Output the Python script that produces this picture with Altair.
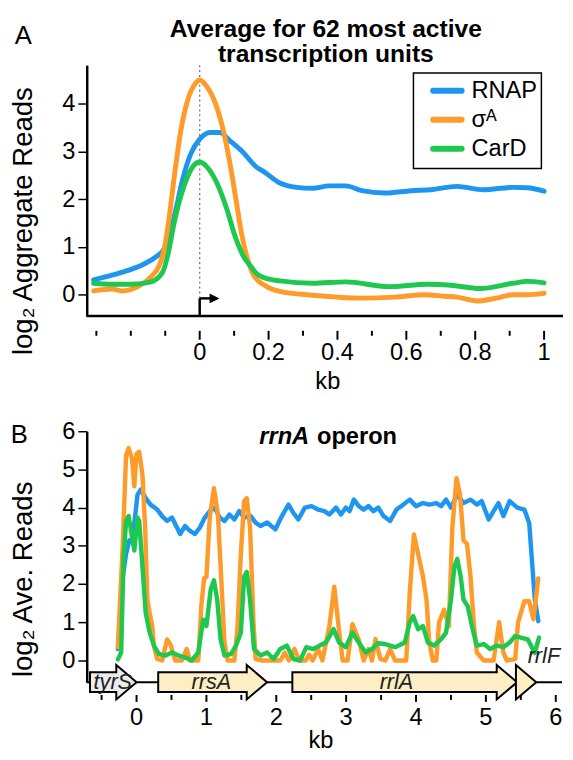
import altair as alt
import pandas as pd

FONT = "Liberation Sans"
SERIES = ["RNAP", "σᴬ", "CarD"]
COLORS = ["#1e96ef", "#ff9b2b", "#1ec84e"]

# ---------------- Panel A: average of 62 most active transcription units ----------------
A_KB_RNAP = [-0.308, -0.255, -0.208, -0.16, -0.122, -0.107, -0.088, -0.069, -0.05, -0.026,
             0.0, 0.03, 0.059, 0.087, 0.125, 0.164, 0.186, 0.233, 0.281, 0.328,
             0.376, 0.424, 0.471, 0.538, 0.614, 0.671, 0.747, 0.824, 0.909, 0.95, 1.0]
A_RNAP = [0.31, 0.41, 0.51, 0.65, 0.82, 0.92, 1.24, 1.79, 2.40, 2.95,
          3.26, 3.40, 3.40, 3.23, 2.99, 2.68, 2.58, 2.34, 2.25, 2.23,
          2.28, 2.28, 2.18, 2.13, 2.18, 2.20, 2.27, 2.20, 2.25, 2.24, 2.17]

A_KB_SIG = [-0.308, -0.255, -0.226, -0.18, -0.141, -0.117, -0.103, -0.088, -0.074, -0.055,
            -0.036, -0.012, 0.0, 0.021, 0.05, 0.073, 0.093, 0.107, 0.121, 0.136,
            0.157, 0.195, 0.233, 0.328, 0.40, 0.471, 0.567, 0.652, 0.709, 0.747,
            0.805, 0.862, 0.909, 0.95, 1.0]
A_SIG = [0.08, 0.12, 0.08, 0.17, 0.38, 0.62, 0.96, 1.65, 2.46, 3.43,
         4.05, 4.43, 4.50, 4.36, 3.92, 3.30, 2.54, 1.92, 1.30, 0.82,
         0.41, 0.17, 0.07, -0.01, -0.05, -0.07, -0.05, 0.0, -0.03, -0.05,
         -0.13, -0.07, 0.0, 0.0, 0.03]

A_KB_CARD = [-0.308, -0.255, -0.198, -0.141, -0.107, -0.093, -0.074, -0.055, -0.036, -0.017,
             0.0, 0.021, 0.05, 0.079, 0.102, 0.126, 0.15, 0.164, 0.186, 0.233,
             0.328, 0.424, 0.548, 0.662, 0.728, 0.814, 0.909, 0.95, 1.0]
A_CARD = [0.24, 0.22, 0.22, 0.27, 0.48, 0.82, 1.51, 2.06, 2.46, 2.71,
          2.78, 2.68, 2.34, 1.79, 1.24, 0.82, 0.58, 0.45, 0.36, 0.29,
          0.24, 0.27, 0.17, 0.22, 0.20, 0.13, 0.24, 0.28, 0.25]

A_XMAJOR = [0, 0.2, 0.4, 0.6, 0.8, 1.0]
A_XLABELS = ["0", "0.2", "0.4", "0.6", "0.8", "1"]
A_XMINOR = [-0.3, -0.2, -0.1, 0.1, 0.3, 0.5, 0.7, 0.9]
A_YTICKS = [0, 1, 2, 3, 4]
A_TITLE = ["Average for 62 most active", "transcription units"]
A_YTITLE = "log₂ Aggregate Reads"
TSS_KB = [0.0]
TSS_ARROW_KB = [0.0, 0.035, 0.043]   # bend, shaft end, arrow-head centre

# ---------------- Panel B: rrnA operon ----------------
B_KB_RNAP = [-0.267, -0.197, -0.15, -0.103, -0.056, 0.014, 0.06, 0.131, 0.2, 0.296,
             0.366, 0.437, 0.507, 0.578, 0.624, 0.695, 0.766, 0.836, 0.907, 0.977,
             1.048, 1.118, 1.19, 1.259, 1.33, 1.4, 1.47, 1.54, 1.634, 1.704,
             1.775, 1.87, 1.986, 2.08, 2.175, 2.245, 2.315, 2.409, 2.503, 2.597,
             2.69, 2.76, 2.855, 2.925, 2.994, 3.05, 3.11, 3.18, 3.25, 3.32,
             3.39, 3.46, 3.535, 3.63, 3.72, 3.82, 3.91, 4.0, 4.1, 4.19,
             4.29, 4.36, 4.43, 4.5, 4.59, 4.68, 4.78, 4.87, 4.94, 5.04,
             5.11, 5.18, 5.25, 5.34, 5.45, 5.55, 5.62, 5.66, 5.7, 5.75]
B_RNAP = [0.3, 2.19, 2.79, 3.14, 3.2, 4.34, 4.47, 4.25, 4.08, 3.95,
          3.78, 3.65, 3.74, 3.48, 3.31, 3.52, 3.39, 3.31, 3.48, 3.74,
          3.91, 4.0, 3.74, 3.65, 3.82, 3.69, 3.91, 3.74, 3.78, 3.61,
          3.52, 3.61, 3.43, 3.78, 4.08, 3.86, 3.69, 4.0, 4.04, 3.95,
          3.91, 3.82, 4.0, 3.82, 4.0, 3.91, 4.21, 4.04, 3.95, 4.04,
          3.91, 4.0, 3.78, 3.65, 3.95, 4.08, 4.21, 4.04, 4.12, 4.08,
          4.12, 4.04, 4.21, 4.0, 4.34, 4.12, 4.21, 4.08, 4.17, 3.69,
          3.91, 4.12, 3.78, 4.17, 4.0, 3.95, 3.6, 2.6, 1.6, 1.03]

B_KB_SIG = [-0.267, -0.197, -0.15, -0.113, -0.065, -0.032, 0.0, 0.038, 0.085, 0.123,
            0.155, 0.188, 0.225, 0.249, 0.296, 0.366, 0.437, 0.485, 0.555, 0.65,
            0.718, 0.766, 0.883, 0.93, 0.968, 1.0, 1.048, 1.108, 1.165, 1.211,
            1.259, 1.305, 1.4, 1.446, 1.493, 1.54, 1.577, 1.625, 1.672, 1.704,
            1.8, 1.9, 2.06, 2.12, 2.18, 2.26, 2.33, 2.42, 2.47, 2.52,
            2.6, 2.66, 2.76, 2.83, 2.9, 2.95, 3.02, 3.09, 3.18, 3.25,
            3.32, 3.37, 3.42, 3.49, 3.56, 3.63, 3.7, 3.86, 3.91, 3.97,
            4.03, 4.1, 4.15, 4.19, 4.24, 4.29, 4.33, 4.4, 4.47, 4.52,
            4.58, 4.63, 4.68, 4.73, 4.78, 4.83, 4.87, 4.97, 5.11, 5.19,
            5.25, 5.3, 5.42, 5.46, 5.55, 5.62, 5.68, 5.75]
B_SIG = [0.35, 3.05, 5.37, 5.56, 5.28, 4.56, 5.41, 5.46, 4.85, 3.48,
         1.59, 1.24, 0.9, 0.39, 0.04, 0.0, 0.55, 0.42, 0.0, 0.0,
         0.30, 0.0, 0.0, 1.5, 2.15, 2.19, 3.74, 4.51, 3.82, 2.19,
         0.47, 0.0, 0.0, 0.9, 2.79, 4.17, 4.25, 3.48, 1.07, 0.04,
         0.0, 0.0, 0.0, 0.2, 0.0, 0.3, 0.0, 0.0, 0.15, 0.0,
         0.3, 0.0, 0.9, 1.93, 0.75, 0.0, 0.0, 0.95, 0.55, 0.0,
         0.3, 0.0, 0.56, 0.04, 0.0, 0.3, 0.0, 0.0, 1.76, 3.3,
         2.79, 2.19, 1.59, 0.47, 0.0, 0.0, 1.0, 1.33, 0.9, 3.48,
         4.77, 4.34, 3.14, 3.05, 2.19, 0.9, 0.21, 0.0, 0.0, 1.0,
         0.21, 0.0, 0.04, 0.99, 1.55, 1.55, 1.08, 2.15]

B_KB_CARD = [-0.267, -0.22, -0.187, -0.15, -0.113, -0.056, -0.032, 0.014, 0.038, 0.085,
             0.131, 0.188, 0.249, 0.319, 0.413, 0.507, 0.6, 0.695, 0.789, 0.883,
             0.954, 1.0, 1.061, 1.108, 1.155, 1.202, 1.259, 1.352, 1.423, 1.493,
             1.54, 1.577, 1.625, 1.681, 1.775, 1.869, 1.963, 2.057, 2.15, 2.245,
             2.34, 2.43, 2.53, 2.62, 2.71, 2.82, 2.9, 2.994, 3.09, 3.18,
             3.28, 3.37, 3.45, 3.56, 3.7, 3.84, 3.91, 3.96, 4.03, 4.1,
             4.17, 4.26, 4.36, 4.43, 4.5, 4.55, 4.59, 4.64, 4.68, 4.74,
             4.8, 4.87, 4.97, 5.06, 5.16, 5.25, 5.34, 5.42, 5.5, 5.6,
             5.7, 5.76]
B_CARD = [0.03, 0.21, 2.62, 3.65, 3.78, 3.14, 2.88, 3.74, 3.65, 2.45,
          1.24, 0.73, 0.39, 0.17, 0.13, 0.21, 0.13, 0.08, 0.0, 0.21,
          1.07, 0.9, 1.85, 2.1, 1.59, 0.56, 0.13, 0.17, 0.39, 0.73,
          2.19, 2.32, 1.59, 0.3, 0.13, 0.21, 0.04, 0.3, 0.39, 0.04,
          0.0, 0.35, 0.3, 0.39, 0.47, 0.82, 0.47, 0.35, 0.73, 0.47,
          0.21, 0.3, 0.45, 0.43, 0.35, 0.47, 1.0, 1.16, 0.82, 0.9,
          0.47, 0.39, 0.56, 0.73, 1.59, 2.45, 2.66, 2.19, 1.59, 1.42,
          0.9, 0.39, 0.43, 0.3, 0.39, 0.35, 0.47, 0.64, 0.6, 0.55,
          0.2, 0.6]

B_XMAJOR = [0.0, 1.0, 2.0, 3.0, 4.0, 5.0, 6.0]
B_XLABELS = ["0", "1", "2", "3", "4", "5", "6"]
B_XMINOR = [-0.5, 0.5, 1.5, 2.5, 3.5, 4.5, 5.5]
B_YTICKS = [0, 1, 2, 3, 4, 5, 6]
B_YTITLE = "log₂ Ave. Reads"
B_TITLE = ["rrnA", "operon"]

GENES = ["tyrS", "rrsA", "rrlA", "rrlF"]
GENE_START = [-0.666, 0.31, 2.23, 5.43]
GENE_HEAD = [-0.29, 1.577, 5.155, 5.43]
GENE_LABEL_KB = [-0.34, 1.07, 3.72, 5.83]
GENE_FILL = "#fdeec3"
TYRS_FILL = "#ececec"


def to_long(parts):
    return pd.concat([pd.DataFrame({"kb": xs, "val": ys, "series": name}) for name, xs, ys in parts],
                     ignore_index=True)


ONE = pd.DataFrame({"k": [0]})


def text_at(text, x, y, size, weight="normal", style="normal", align="center", color="black"):
    return alt.Chart(ONE).mark_text(text=text, font=FONT, fontSize=size, fontWeight=weight,
                                    fontStyle=style, align=align, baseline="middle",
                                    color=color).encode(x=alt.value(x), y=alt.value(y))


def tick_marks(values, scale, top, length):
    return alt.Chart(pd.DataFrame({"tick": values})).mark_rule(color="black", strokeWidth=2).encode(
        x=alt.X("tick:Q", scale=scale, axis=None), y=alt.value(top), y2=alt.value(top + length))


def tick_labels(values, labels, scale, y):
    return alt.Chart(pd.DataFrame({"tick": values, "lab": labels})).mark_text(
        font=FONT, fontSize=24, baseline="middle", color="black").encode(
        x=alt.X("tick:Q", scale=scale, axis=None), y=alt.value(y), text="lab:N")


# ====================== Panel A ======================
WA, HA = 484, 255
OFF_A = 15
xA = alt.Scale(domain=[-0.328, 1.055], nice=False, zero=False)
yA = alt.Scale(domain=[-0.447, 4.81], nice=False, zero=False)

dfA = to_long([(SERIES[0], A_KB_RNAP, A_RNAP), (SERIES[1], A_KB_SIG, A_SIG), (SERIES[2], A_KB_CARD, A_CARD)])

axA_y = alt.Axis(values=A_YTICKS, domainColor="black", domainWidth=2.5, tickColor="black",
                 tickWidth=1.5, tickSize=9, labelFontSize=24, labelPadding=3, labelColor="black",
                 labelFont=FONT, title=A_YTITLE, titleFontSize=28, titleFontWeight="normal",
                 titleColor="black", titleFont=FONT, titleAngle=270, titleX=-64, titleY=158,
                 titleAlign="center", titleBaseline="middle")

tss_line = alt.Chart(pd.DataFrame({"kb": TSS_KB})).mark_rule(
    color="#777", strokeWidth=1.3, strokeDash=[2, 3]).encode(x=alt.X("kb:Q", scale=xA, axis=None))

linesA = alt.Chart(dfA).mark_line(strokeWidth=5, strokeCap="round", strokeJoin="round",
                                  interpolate="monotone").encode(
    x=alt.X("kb:Q", scale=xA, axis=None),
    y=alt.Y("val:Q", scale=yA, axis=axA_y),
    color=alt.Color("series:N", scale=alt.Scale(domain=SERIES, range=COLORS), legend=None),
)

baseA = alt.Chart(ONE).mark_rule(color="black", strokeWidth=2.5).encode(
    x=alt.value(0), x2=alt.value(WA), y=alt.value(HA))
xaxisA = [tick_marks(A_XMAJOR, xA, HA + OFF_A, 9),
          tick_marks(A_XMINOR, xA, HA + OFF_A, 5),
          tick_labels(A_XMAJOR, A_XLABELS, xA, HA + 38),
          text_at("kb", WA / 2 + 3, HA + 67, 24)]

arrow_v = alt.Chart(pd.DataFrame({"kb": [TSS_ARROW_KB[0]]})).mark_rule(color="black", strokeWidth=2.5).encode(
    x=alt.X("kb:Q", scale=xA, axis=None), y=alt.value(HA), y2=alt.value(HA - 18))
arrow_h = alt.Chart(pd.DataFrame({"kb": [TSS_ARROW_KB[0]], "kb2": [TSS_ARROW_KB[1]]})).mark_rule(
    color="black", strokeWidth=2.5).encode(
    x=alt.X("kb:Q", scale=xA, axis=None), x2="kb2:Q", y=alt.value(HA - 18))
arrow_head = alt.Chart(pd.DataFrame({"kb": [TSS_ARROW_KB[2]]})).mark_point(
    shape="M -1 -1 L 1 0 L -1 1 Z", size=100, filled=True, color="black", opacity=1).encode(
    x=alt.X("kb:Q", scale=xA, axis=None), y=alt.value(HA - 18))

# legend (drawn by hand to match the boxed legend)
legend_layers = [alt.Chart(ONE).mark_rect(fill="white", stroke="black", strokeWidth=1.5).encode(
    x=alt.value(332), x2=alt.value(462), y=alt.value(8), y2=alt.value(105))]
for i, (name, col) in enumerate(zip(SERIES, COLORS)):
    yy = 26 + 29.5 * i
    legend_layers.append(alt.Chart(ONE).mark_rule(color=col, strokeWidth=6, strokeCap="round").encode(
        x=alt.value(352), x2=alt.value(381), y=alt.value(yy)))
    legend_layers.append(text_at(name, 391, yy, 24, align="left"))

titleA = [text_at(A_TITLE[0], WA / 2 + 1, -37, 25, weight="bold"),
          text_at(A_TITLE[1], WA / 2 + 1, -11, 25, weight="bold"),
          text_at("A", -64.5, -29, 26)]

panelA = alt.layer(tss_line, linesA, baseA, *xaxisA, arrow_v, arrow_h, arrow_head,
                   *legend_layers, *titleA).properties(width=WA, height=HA)

# ====================== Panel B ======================
WB, HB = 483, 255
OFF_B = 13
xB = alt.Scale(domain=[-0.713, 6.09], nice=False, zero=False)
yB = alt.Scale(domain=[-0.567, 6.0], nice=False, zero=False)

dfB = to_long([(SERIES[0], B_KB_RNAP, B_RNAP), (SERIES[1], B_KB_SIG, B_SIG), (SERIES[2], B_KB_CARD, B_CARD)])

axB_y = alt.Axis(values=B_YTICKS, domainColor="black", domainWidth=2.5, tickColor="black",
                 tickWidth=1.5, tickSize=9, labelFontSize=24, labelPadding=3, labelColor="black",
                 labelFont=FONT, title=B_YTITLE, titleFontSize=28, titleFontWeight="normal",
                 titleColor="black", titleFont=FONT, titleAngle=270, titleX=-64, titleY=150,
                 titleAlign="center", titleBaseline="middle")

linesB = alt.Chart(dfB).mark_line(strokeWidth=4.5, strokeCap="round", strokeJoin="round").encode(
    x=alt.X("kb:Q", scale=xB, axis=None),
    y=alt.Y("val:Q", scale=yB, axis=axB_y),
    color=alt.Color("series:N", scale=alt.Scale(domain=SERIES, range=COLORS), legend=None),
)

track = alt.Chart(ONE).mark_rule(color="black", strokeWidth=2).encode(
    x=alt.value(0), x2=alt.value(WB), y=alt.value(HB))
xaxisB = [tick_marks(B_XMAJOR, xB, HB + OFF_B, 7),
          tick_marks(B_XMINOR, xB, HB + OFF_B, 5),
          tick_labels(B_XMAJOR, B_XLABELS, xB, HB + 37),
          text_at("kb", 238, HB + 60, 24)]

dfG = pd.DataFrame({"gene": GENES, "start": GENE_START, "head": GENE_HEAD, "label_kb": GENE_LABEL_KB})
gene_fill = alt.condition("datum.gene == 'tyrS'", alt.value(TYRS_FILL), alt.value(GENE_FILL))

bodies = alt.Chart(dfG).mark_rect(stroke="black", strokeWidth=2).encode(
    x=alt.X("start:Q", scale=xB, axis=None), x2="head:Q",
    y=alt.value(HB - 10), y2=alt.value(HB + 10), fill=gene_fill)
heads = alt.Chart(dfG).mark_point(shape="M 0 -1 L 1.18 0 L 0 1 Z", size=1225, filled=True,
                                  stroke="black", strokeWidth=2, opacity=1).encode(
    x=alt.X("head:Q", scale=xB, axis=None), y=alt.value(HB), fill=gene_fill)
joins = alt.Chart(dfG).transform_filter("datum.start < datum.head").transform_calculate(
    c1="datum.head - 0.03", c2="datum.head + 0.04").mark_rect(strokeWidth=0).encode(
    x=alt.X("c1:Q", scale=xB, axis=None), x2="c2:Q",
    y=alt.value(HB - 9), y2=alt.value(HB + 9), fill=gene_fill)
gene_labels = alt.Chart(dfG).transform_filter("datum.gene != 'rrlF'").mark_text(
    font=FONT, fontSize=22, fontStyle="italic", color="#222", baseline="middle").encode(
    x=alt.X("label_kb:Q", scale=xB, axis=None), y=alt.value(HB), text="gene:N")
rrlf_label = alt.Chart(dfG).transform_filter("datum.gene == 'rrlF'").mark_text(
    font=FONT, fontSize=22, fontStyle="italic", color="#222", baseline="middle").encode(
    x=alt.X("label_kb:Q", scale=xB, axis=None), y=alt.value(HB - 26), text="gene:N")

titleB = [text_at(B_TITLE[0], 226, 6, 24, weight="bold", style="italic", align="right"),
          text_at(B_TITLE[1], 234, 6, 24, weight="bold", align="left"),
          text_at("B", -68.5, 4, 26)]

panelB = alt.layer(linesB, track, *xaxisB, bodies, heads, joins, gene_labels, rrlf_label,
                   *titleB).properties(width=WB, height=HB)

chart = alt.vconcat(panelA, panelB, spacing=26).resolve_scale(
    x="independent", y="independent", color="independent"
).properties(
    padding={"left": 2, "top": 3, "right": 0, "bottom": 0}, background="white"
).configure_view(stroke=None).configure_axis(grid=False)

chart.save("out.html", embed_options={"renderer": "svg", "actions": False})
